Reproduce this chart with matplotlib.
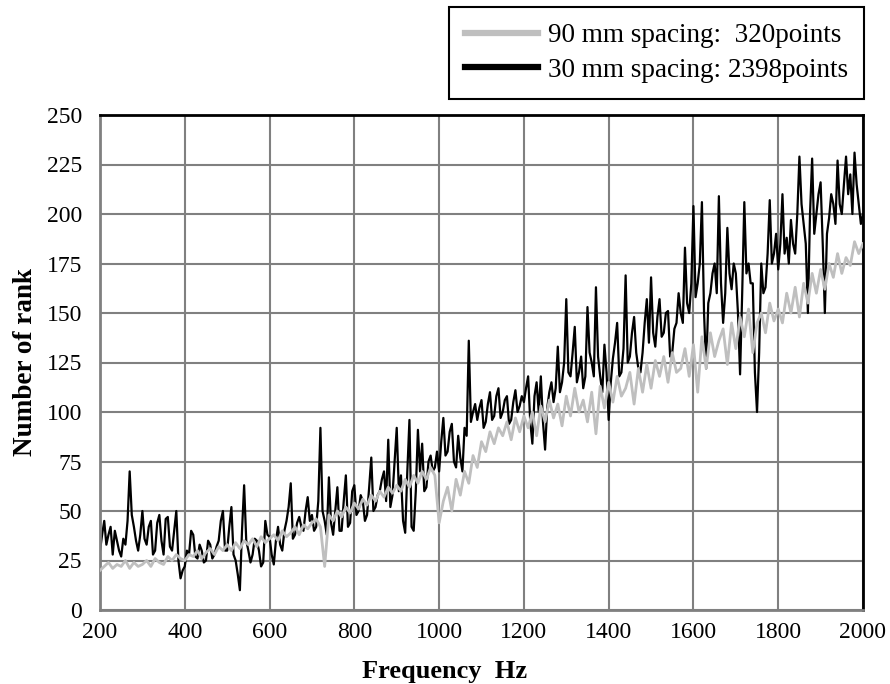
import numpy as np
from matplotlib import pyplot as plt

plt.rcParams['font.family'] = ['Liberation Serif', 'DejaVu Serif']

# frequency axes
freq_30 = np.arange(200, 2001, 5)
freq_90 = np.arange(200, 2001, 10)

# 30 mm spacing (black), 5 Hz step
rank_30 = [
    30, 38, 45, 33, 38, 42, 28, 40, 35, 30, 27, 36, 33, 45, 70, 48, 42, 35, 30, 38,
    50, 36, 33, 42, 45, 28, 30, 44, 48, 35, 28, 46, 47, 32, 30, 40, 50, 25, 16, 20,
    22, 30, 28, 40, 38, 27, 26, 33, 30, 24, 25, 35, 33, 26, 28, 32, 35, 45, 50, 30,
    30, 42, 52, 28, 25, 18, 10, 40, 63, 35, 30, 24, 28, 36, 35, 30, 22, 24, 45, 38,
    37, 28, 23, 35, 42, 33, 30, 40, 45, 52, 64, 36, 38, 44, 47, 42, 40, 50, 57, 45,
    48, 40, 42, 55, 92, 50, 45, 38, 67, 44, 38, 50, 62, 40, 40, 55, 68, 42, 44, 60,
    63, 48, 50, 58, 55, 45, 48, 62, 77, 50, 52, 58, 60, 66, 70, 55, 86, 52, 58, 75,
    92, 60, 68, 45, 39, 70, 96, 42, 40, 60, 91, 70, 84, 60, 62, 75, 78, 70, 72, 80,
    70, 85, 97, 78, 80, 90, 94, 75, 72, 88, 77, 70, 92, 88, 136, 95, 100, 104, 96, 102,
    106, 92, 95, 104, 110, 96, 98, 108, 112, 97, 100, 106, 108, 94, 96, 105, 111, 100, 103, 108,
    105, 112, 118, 95, 84, 108, 115, 100, 118, 95, 81, 102, 110, 115, 105, 112, 133, 110, 115, 125,
    157, 120, 118, 130, 143, 115, 120, 128, 112, 118, 153, 130, 125, 118, 163, 128, 118, 110, 134, 120,
    96, 115, 127, 135, 145, 118, 120, 132, 169, 125, 128, 140, 148, 130, 122, 120, 130, 145, 157, 135,
    168, 140, 133, 148, 157, 138, 140, 150, 151, 128, 130, 142, 145, 160, 150, 145, 183, 155, 150, 165,
    204, 158, 165, 175, 206, 150, 122, 155, 160, 170, 175, 160, 209, 165, 145, 160, 193, 170, 162, 175,
    170, 150, 119, 160, 206, 170, 175, 165, 165, 120, 100, 130, 175, 160, 163, 180, 207, 175, 180, 190,
    172, 185, 210, 180, 188, 175, 197, 185, 180, 200, 229, 205, 195, 185, 150, 200, 228, 190, 200, 210,
    216, 185, 150, 190, 198, 210, 205, 195, 227, 205, 200, 215, 229, 210, 220, 200, 231, 215, 205, 195,
    200,
]

# 90 mm spacing (gray), 10 Hz step
rank_90 = [
    20, 22, 24, 21, 23, 22, 25, 21, 24, 22,
    23, 25, 22, 26, 24, 23, 27, 25, 28, 26,
    25, 28, 27, 30, 26, 29, 31, 28, 32, 30,
    33, 30, 34, 31, 35, 33, 36, 32, 37, 34,
    36, 38, 35, 40, 37, 39, 42, 38, 43, 41,
    44, 46, 42, 22, 48, 45, 50, 47, 52, 49,
    54, 51, 56, 53, 58, 55, 60, 57, 62, 59,
    63, 60, 66, 62, 68, 64, 70, 66, 72, 68,
    44, 55, 62, 50, 66, 58, 70, 64, 78, 72,
    85, 80, 90, 84, 92, 88, 95, 86, 97, 90,
    98, 92, 100, 88, 103, 95, 106, 97, 104, 93,
    108, 98, 112, 100, 106, 95, 110, 89, 113, 102,
    115, 105, 118, 108, 112, 120, 104, 122, 110, 124,
    112, 126, 118, 128, 115, 130, 120, 122, 132, 118,
    134, 110, 138, 122, 140, 128, 136, 142, 124, 145,
    132, 148, 138, 152, 130, 145, 150, 140, 155, 146,
    152, 145, 160, 150, 163, 148, 165, 155, 170, 160,
    172, 162, 175, 168, 180, 170, 178, 174, 186, 180,
    185,
]

labels = ['90 mm spacing:  320points', '30 mm spacing: 2398points']

fig = plt.figure(figsize=(8.9, 6.84), dpi=100)
ax = fig.add_axes([100 / 890, 74 / 684, 763 / 890, 495 / 684])

ax.plot(freq_90, rank_90, color='#bfbfbf', lw=2, zorder=3)
ax.plot(freq_30, rank_30, color='black', lw=1.6, zorder=2)

ax.set_xlim(200, 2000)
ax.set_ylim(0, 250)
ax.set_xticks(np.arange(200, 2001, 200))
ax.set_yticks(np.arange(0, 251, 25))
ax.grid(True, color='#808080', lw=1.5)
ax.set_axisbelow(True)
ax.tick_params(length=0, labelsize=17)
ax.tick_params(axis='y', pad=13)
ax.tick_params(axis='x', pad=9)

for s in ['top', 'right']:
    ax.spines[s].set_color('black')
    ax.spines[s].set_linewidth(2)
for s in ['left', 'bottom']:
    ax.spines[s].set_color('#808080')
    ax.spines[s].set_linewidth(2)

ax.set_xlabel('Frequency  Hz', fontsize=19, fontweight='bold')
ax.xaxis.set_label_coords(0.451, -0.101)
ax.set_ylabel('Number of rank', fontsize=19.5, fontweight='bold', labelpad=6)

leg_handles = [plt.Line2D([], [], color='#bfbfbf', lw=4.5),
               plt.Line2D([], [], color='black', lw=4.5)]
leg = fig.legend(leg_handles, labels, loc='upper right',
                 bbox_to_anchor=(864 / 890, 1 - 7 / 684),
                 fontsize=19.5, fancybox=False, edgecolor='black', framealpha=1,
                 handlelength=2.7, handletextpad=0.35, labelspacing=0.35,
                 borderpad=0.6, borderaxespad=0)
leg.get_frame().set_linewidth(1.5)

fig.savefig('out.png', dpi=100)
